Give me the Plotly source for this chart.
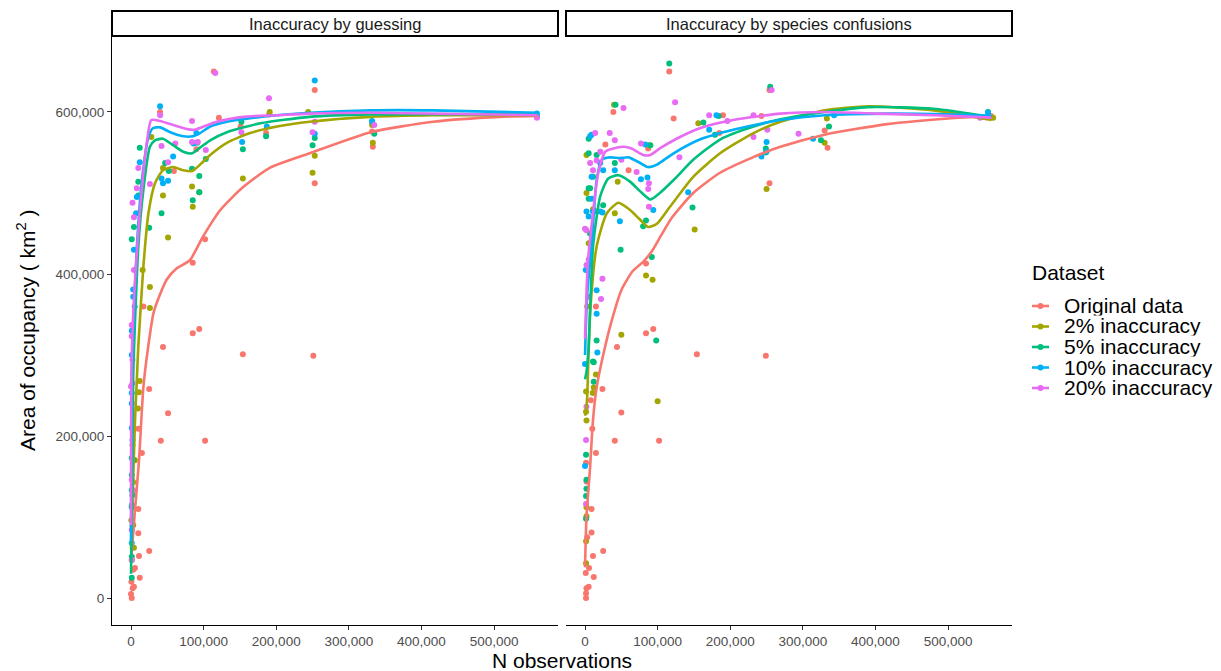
import plotly.graph_objects as go

# ---------------------------------------------------------------- categories
DATASETS = ["Original data", "2% inaccuracy", "5% inaccuracy", "10% inaccuracy", "20% inaccuracy"]
COLORS = ["#F8766D", "#A3A500", "#00BF7D", "#00B0F6", "#E76BF3"]
PANELS = ["Inaccuracy by guessing", "Inaccuracy by species confusions"]
X_TICKS = [0, 100000, 200000, 300000, 400000, 500000]
Y_TICKS = [0, 200000, 400000, 600000]

# ---------------------------------------------------------------- panel 1: guessing, observed points
guess_orig_x = [1000, 2300, 4000, 3000, 5500, 12000, 11000, 25000, 10000, 10000, 15000, 10000, 25000, 51000,
                41000, 102000, 154000, 44000, 85000, 94000, 85000, 102000, 90000, 59000, 121000, 40000, 114000,
                253000, 253000, 251000, 333000, 332000, 559000, 186000, 190000, 151000, 0, 500, 17000]
guess_orig_y = [0, 12000, 14000, 35000, 37000, 25000, 52000, 58000, 80000, 110000, 179000, 209000, 258000, 228000,
                194000, 194000, 301000, 310000, 327000, 332000, 414000, 443000, 554000, 527000, 593000, 600000, 650000,
                627000, 512000, 299000, 557000, 576000, 595000, 574000, 597000, 582000, 5000, 20000, 360000]

guess_2_x = [12000, 11000, 9600, 5500, 3000, 1500, 3000, 4000, 26000, 26000, 16000, 51000, 44000, 44000, 84000,
             85000, 94000, 154000, 191000, 28000, 250000, 253000, 244000, 332000, 333000, 559000, 500, 1000, 2000,
             4000, 2000]
guess_2_y = [268000, 254000, 234000, 170000, 143000, 115000, 90000, 62000, 384000, 358000, 405000, 445000, 497000,
             531000, 508000, 483000, 501000, 518000, 600000, 569000, 525000, 546000, 600000, 584000, 562000, 594000,
             96000, 47000, 189000, 170000, 89000]

guess_5_x = [12000, 10000, 10000, 4000, 1000, 25000, 42000, 47000, 52000, 84000, 85000, 94000, 91000, 103000,
             154000, 152000, 186000, 250000, 253000, 332000, 335000, 94000, 559000, 1000, 1000, 1000, 2000, 1000,
             2000, 3000, 1000, 1000, 1000]
guess_5_y = [556000, 514000, 497000, 458000, 443000, 457000, 475000, 537000, 527000, 530000, 491000, 521000, 562000,
             542000, 554000, 588000, 570000, 559000, 568000, 588000, 573000, 501000, 594000, 25000, 51000, 112000,
             127000, 152000, 172000, 170000, 173000, 133000, 114000]

guess_10_x = [40000, 12000, 8000, 7000, 4000, 3000, 3000, 42000, 44000, 51000, 58000, 90000, 253000, 253000,
              153000, 187000, 86000, 332000, 559000, 1000, 1000, 1000, 2000, 1000, 1000, 1000, 5000]
guess_10_y = [607000, 538000, 495000, 475000, 430000, 381000, 372000, 518000, 512000, 515000, 545000, 574000,
              639000, 573000, 563000, 582000, 561000, 589000, 598000, 253000, 210000, 68000, 195000, 240000, 300000,
              330000, 360000]

guess_20_x = [40000, 42000, 26000, 10000, 8000, 2000, 4000, 4000, 1000, 1000, 84000, 84000, 103000, 61000, 51000,
              152000, 190000, 116000, 92000, 250000, 253000, 335000, 559000, 2000, 1000, 1000, 1000, 3000, 0, 2000]
guess_20_y = [596000, 558000, 511000, 531000, 506000, 488000, 470000, 405000, 337000, 323000, 589000, 563000,
              553000, 561000, 538000, 575000, 617000, 648000, 563000, 575000, 588000, 584000, 593000, 265000, 146000,
              84000, 47000, 133000, 261000, 294000]

# ---------------------------------------------------------------- panel 1: guessing, smoothed trends
guess_orig_fit_x = [0, 5500, 11000, 17000, 23000, 31000, 40000, 49000, 63000, 81000, 99000, 123000, 154000,
                    191000, 246000, 330000, 416000, 508000, 560000]
guess_orig_fit_y = [45000, 109000, 170000, 260000, 306000, 352000, 375000, 393000, 407000, 417000, 446000, 479000,
                    507000, 531000, 549000, 575000, 588000, 594000, 595000]

guess_2_fit_x = [0, 3000, 5500, 8000, 10000, 17000, 24000, 33000, 44000, 58000, 72000, 84000, 95000, 109000,
                 132000, 164000, 201000, 246000, 330000, 416000, 560000]
guess_2_fit_y = [60000, 146000, 220000, 269000, 310000, 409000, 475000, 512000, 528000, 532000, 528000, 527000,
                 535000, 547000, 562000, 574000, 582000, 588000, 594000, 596000, 596000]

guess_5_fit_x = [0, 1500, 3000, 10000, 17000, 26000, 33000, 44000, 58000, 72000, 84000, 95000, 109000, 132000,
                 178000, 246000, 330000, 560000]
guess_5_fit_y = [30000, 121000, 275000, 433000, 504000, 557000, 565000, 567000, 559000, 551000, 549000, 556000,
                 565000, 575000, 586000, 594000, 597000, 597000]

guess_10_fit_x = [0, 1000, 2000, 8000, 15000, 24000, 30000, 40000, 54000, 72000, 85000, 95000, 109000, 132000,
                  178000, 246000, 330000, 416000, 560000]
guess_10_fit_y = [70000, 269000, 306000, 433000, 516000, 569000, 580000, 581000, 575000, 570000, 570000, 574000,
                  582000, 588000, 594000, 599000, 602000, 602000, 599000]

guess_20_fit_x = [0, 1000, 5500, 12000, 21000, 28000, 40000, 58000, 77000, 86000, 100000, 118000, 155000, 201000,
                  246000, 330000, 560000]
guess_20_fit_y = [90000, 300000, 393000, 475000, 557000, 590000, 589000, 584000, 579000, 578000, 582000, 588000,
                  594000, 596000, 598000, 599000, 596000]

# ---------------------------------------------------------------- panel 2: species confusions, observed points
conf_orig_x = [1400, 1400, 2000, 5000, 1000, 5500, 12000, 11000, 25000, 3000, 9000, 9000, 15000, 10000, 24000,
               50000, 41000, 102000, 154000, 1400, 2000, 8000, 39000, 122000, 28000, 60000, 84000, 84000, 94000,
               44000, 15000, 249000, 254000, 116000, 254000, 190000, 243000, 330000, 334000, 87000, 559000, 185000]
conf_orig_y = [0, 6000, 12000, 14000, 31000, 37000, 26000, 52000, 58000, 75000, 81000, 110000, 179000, 209000,
               258000, 229000, 194000, 194000, 301000, 167000, 144000, 244000, 600000, 592000, 560000, 528000, 413000,
               327000, 332000, 310000, 360000, 299000, 512000, 650000, 627000, 596000, 595000, 577000, 556000, 555000,
               595000, 574000]

conf_2_x = [1400, 2000, 10600, 12000, 15000, 2000, 2000, 1400, 1400, 100000, 1400, 2000, 2000, 5000, 41000, 45000,
            84000, 93000, 50000, 151000, 40000, 88000, 250000, 333000, 330000, 156000, 562000, 3000, 11000]
conf_2_y = [230000, 219000, 253000, 260000, 276000, 112000, 101000, 70000, 43000, 243000, 255000, 547000, 500000,
            438000, 475000, 514000, 398000, 393000, 325000, 455000, 609000, 559000, 505000, 592000, 562000, 586000,
            593000, 360000, 480000]

conf_5_x = [1400, 2000, 2000, 1400, 1400, 12000, 12000, 5000, 5000, 5000, 16000, 11000, 25000, 49000, 41000,
            42000, 84000, 80000, 92000, 98000, 148000, 255000, 90000, 16000, 11000, 116000, 179000, 249000, 249000,
            336000, 325000, 184000, 163000, 555000, 7000, 5000, 7000]
conf_5_y = [177000, 146000, 135000, 126000, 98000, 291000, 267000, 567000, 549000, 506000, 547000, 520000, 485000,
            430000, 537000, 609000, 466000, 459000, 421000, 318000, 482000, 631000, 559000, 318000, 292000, 660000,
            572000, 555000, 550000, 582000, 565000, 595000, 587000, 600000, 506000, 493000, 450000]

conf_10_x = [0, 17000, 0, 7000, 2000, 5000, 24000, 16000, 16000, 41000, 48000, 77000, 86000, 94000, 83000, 142000,
             171000, 250000, 250000, 181000, 243000, 314000, 343000, 555000, 9000, 21000, 9000, 9000, 25000, 11000,
             16000, 21000, 1000]
conf_10_y = [289000, 303000, 163000, 570000, 477000, 471000, 476000, 380000, 351000, 528000, 465000, 517000,
             519000, 479000, 560000, 501000, 578000, 563000, 551000, 596000, 545000, 567000, 596000, 599000, 572000,
             537000, 520000, 493000, 528000, 477000, 477000, 477000, 405000]

conf_20_x = [2000, 1400, 1400, 53000, 124000, 14000, 34000, 21000, 7000, 2000, 24000, 22000, 88000, 87000, 88000,
             71000, 77000, 130000, 171000, 50000, 41000, 232000, 232000, 251000, 294000, 196000, 257000, 544000,
             16000, 0, 2000, 5000, 5000, 11000]
conf_20_y = [236000, 195000, 116000, 605000, 612000, 574000, 574000, 551000, 537000, 454000, 394000, 369000,
             512000, 505000, 483000, 526000, 561000, 544000, 596000, 541000, 565000, 596000, 569000, 578000, 573000,
             589000, 627000, 593000, 540000, 456000, 411000, 418000, 372000, 528000]

# ---------------------------------------------------------------- panel 2: species confusions, smoothed trends
conf_orig_fit_x = [0, 2000, 7000, 11000, 16000, 25000, 36000, 50000, 66000, 80000, 92000, 105000, 120000, 149000,
                   186000, 231000, 269000, 330000, 416000, 500000, 560000]
conf_orig_fit_y = [38000, 100000, 162000, 220000, 260000, 300000, 340000, 380000, 404000, 415000, 428000, 448000,
                   470000, 500000, 525000, 544000, 557000, 572000, 585000, 592000, 595000]

conf_2_fit_x = [0, 1400, 3000, 7000, 16000, 30000, 46000, 62000, 76000, 87000, 99000, 117000, 149000, 186000,
                232000, 269000, 330000, 390000, 480000, 560000]
conf_2_fit_y = [225000, 230000, 249000, 352000, 434000, 475000, 488000, 479000, 467000, 458000, 462000, 483000,
                520000, 549000, 574000, 588000, 602000, 607000, 602000, 590000]

conf_5_fit_x = [0, 2000, 5000, 11000, 21000, 32000, 46000, 62000, 76000, 90000, 103000, 122000, 149000, 186000,
                232000, 269000, 330000, 390000, 480000, 560000]
conf_5_fit_y = [270000, 279000, 310000, 434000, 496000, 518000, 522000, 514000, 502000, 492000, 500000, 516000,
                541000, 566000, 582000, 591000, 600000, 606000, 604000, 594000]

conf_10_fit_x = [0, 3000, 9000, 16000, 23000, 34000, 48000, 60000, 76000, 87000, 99000, 122000, 158000, 204000,
                 269000, 330000, 420000, 500000, 560000]
conf_10_fit_y = [300000, 375000, 434000, 516000, 541000, 544000, 543000, 544000, 537000, 532000, 535000, 549000,
                 566000, 578000, 590000, 596000, 598000, 597000, 595000]

conf_20_fit_x = [0, 4000, 11000, 18000, 28000, 39000, 53000, 64000, 80000, 90000, 103000, 126000, 158000, 204000,
                 269000, 330000, 400000, 480000, 560000]
conf_20_fit_y = [320000, 415000, 475000, 524000, 551000, 555000, 557000, 555000, 547000, 547000, 555000, 567000,
                 580000, 590000, 598000, 600000, 598000, 596000, 593000]

# ---------------------------------------------------------------- assembly
W, H = 1221, 671
FONT = "Liberation Sans, Arial, sans-serif"

points = [
    [(guess_orig_x, guess_orig_y), (guess_2_x, guess_2_y), (guess_5_x, guess_5_y),
     (guess_10_x, guess_10_y), (guess_20_x, guess_20_y)],
    [(conf_orig_x, conf_orig_y), (conf_2_x, conf_2_y), (conf_5_x, conf_5_y),
     (conf_10_x, conf_10_y), (conf_20_x, conf_20_y)],
]
fits = [
    [(guess_orig_fit_x, guess_orig_fit_y), (guess_2_fit_x, guess_2_fit_y), (guess_5_fit_x, guess_5_fit_y),
     (guess_10_fit_x, guess_10_fit_y), (guess_20_fit_x, guess_20_fit_y)],
    [(conf_orig_fit_x, conf_orig_fit_y), (conf_2_fit_x, conf_2_fit_y), (conf_5_fit_x, conf_5_fit_y),
     (conf_10_fit_x, conf_10_fit_y), (conf_20_fit_x, conf_20_fit_y)],
]

fig = go.Figure()
for p in range(2):
    xa = "x" if p == 0 else "x2"
    ya = "y" if p == 0 else "y2"
    for k in range(len(DATASETS)):
        px_, py_ = points[p][k]
        fig.add_trace(go.Scatter(x=px_, y=py_, xaxis=xa, yaxis=ya, mode="markers",
                                 marker=dict(size=6, color=COLORS[k], line=dict(width=0)),
                                 name=DATASETS[k], showlegend=False, hoverinfo="skip"))
    for k in range(len(DATASETS)):
        fx, fy = fits[p][k]
        fig.add_trace(go.Scatter(x=fx, y=fy, xaxis=xa, yaxis=ya, mode="lines",
                                 line=dict(color=COLORS[k], width=2.6, shape="spline", smoothing=0.6),
                                 name=DATASETS[k], showlegend=False, hoverinfo="skip"))

x_range = [-26200, 588000]
y_range = [-33300, 693800]
panel_px = [(112, 558), (566, 1012)]
top_px, bottom_px = 36, 625
y_domain = [1 - bottom_px / H, 1 - top_px / H]

tick_font = dict(family=FONT, size=13.5, color="#4D4D4D")
x_common = dict(range=x_range, tickvals=X_TICKS, ticktext=[f"{v:,}" for v in X_TICKS],
                showgrid=False, zeroline=False, showline=True, linecolor="black", linewidth=1,
                ticks="outside", ticklen=4, tickcolor="#333333", tickwidth=1, tickfont=tick_font)

fig.update_layout(
    width=W, height=H, autosize=False,
    margin=dict(l=0, r=0, t=0, b=0),
    paper_bgcolor="white", plot_bgcolor="white",
    font=dict(family=FONT, color="black"),
    showlegend=False,
    xaxis=dict(domain=[panel_px[0][0] / W, panel_px[0][1] / W], anchor="y", **x_common),
    xaxis2=dict(domain=[panel_px[1][0] / W, panel_px[1][1] / W], anchor="y2", **x_common),
    yaxis=dict(domain=y_domain, anchor="x", range=y_range, tickvals=Y_TICKS,
               ticktext=[f"{v:,}" for v in Y_TICKS], showgrid=False, zeroline=False,
               showline=True, linecolor="black", linewidth=1, ticks="outside", ticklen=4,
               tickcolor="#333333", tickwidth=1, tickfont=tick_font),
    yaxis2=dict(domain=y_domain, anchor="x2", range=y_range, matches="y", showticklabels=False,
                showgrid=False, zeroline=False, showline=False, ticks=""),
)

shapes, annotations = [], []

# facet strips
for p, title in enumerate(PANELS):
    x0, x1 = panel_px[p]
    shapes.append(dict(type="rect", xref="paper", yref="paper", x0=x0 / W, x1=x1 / W,
                       y0=1 - top_px / H, y1=1 - 11 / H, line=dict(color="black", width=2),
                       fillcolor="white", layer="above"))
    annotations.append(dict(text=title, xref="paper", yref="paper", x=(x0 + x1) / 2 / W, y=1 - 23.5 / H,
                            xanchor="center", yanchor="middle", showarrow=False,
                            font=dict(family=FONT, size=16.5, color="#1A1A1A")))

# axis titles
annotations.append(dict(text="N observations", xref="paper", yref="paper", x=562 / W, y=1 - 660 / H,
                        xanchor="center", yanchor="middle", showarrow=False, height=20,
                        font=dict(family=FONT, size=21, color="black")))
annotations.append(dict(text="Area of occupancy ( km<sup>2</sup> )", xref="paper", yref="paper",
                        x=26 / W, y=1 - 330 / H, xanchor="center", yanchor="middle", textangle=-90,
                        showarrow=False, font=dict(family=FONT, size=21, color="black")))

# legend
annotations.append(dict(text="Dataset", xref="paper", yref="paper", x=1030 / W, y=1 - 272 / H,
                        xanchor="left", yanchor="middle", showarrow=False,
                        font=dict(family=FONT, size=21, color="black")))
ROW = 20.5
for k, name in enumerate(DATASETS):
    yc = 306 + ROW * k
    shapes.append(dict(type="line", xref="paper", yref="paper", x0=1032 / W, x1=1049 / W,
                       y0=1 - yc / H, y1=1 - yc / H, line=dict(color=COLORS[k], width=2.6)))
    shapes.append(dict(type="circle", xref="paper", yref="paper", x0=1037.5 / W, x1=1043.5 / W,
                       y0=1 - (yc + 3) / H, y1=1 - (yc - 3) / H, line=dict(width=0), fillcolor=COLORS[k]))
    annotations.append(dict(text=name, xref="paper", yref="paper", x=1062 / W, y=1 - yc / H,
                            xanchor="left", yanchor="middle", showarrow=False, height=ROW - 1,
                            valign="middle", font=dict(family=FONT, size=21, color="black")))

fig.update_layout(shapes=shapes, annotations=annotations)
fig.write_html("out.html")
